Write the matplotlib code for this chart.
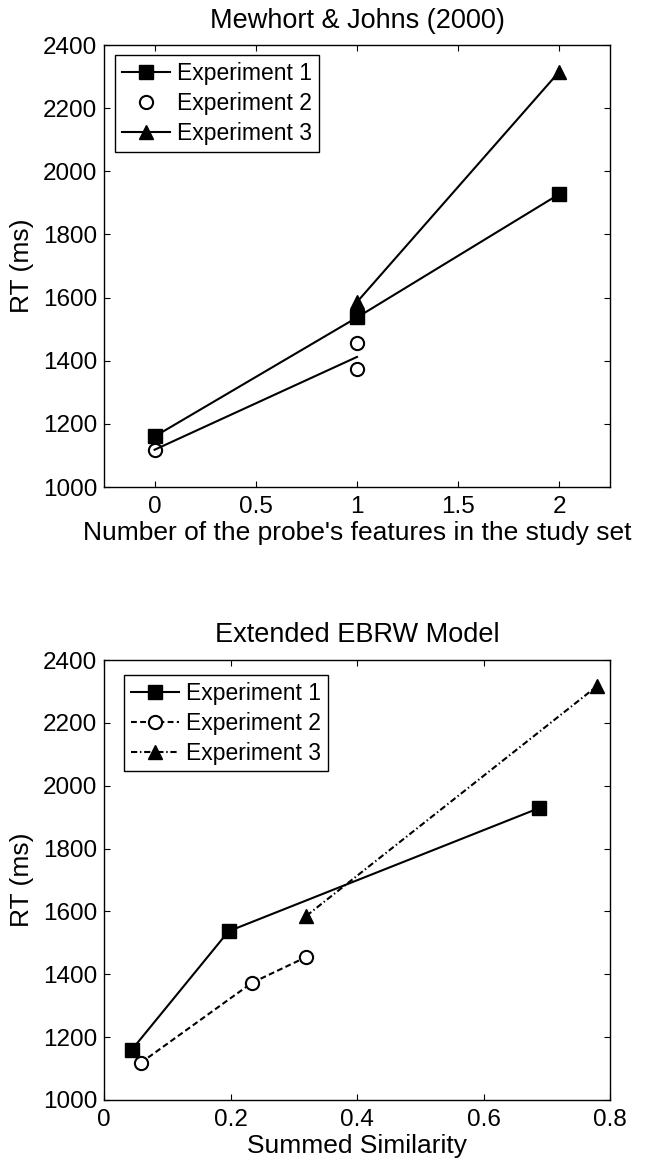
import matplotlib
matplotlib.use("Agg")
import matplotlib.pyplot as plt

plt.rcParams.update({
    "font.family": ["Liberation Sans", "DejaVu Sans"],
    "font.size": 17.5,
    "axes.linewidth": 1.0,
    "xtick.direction": "in",
    "ytick.direction": "in",
    "xtick.top": True,
    "ytick.right": True,
    "xtick.major.size": 4.5,
    "ytick.major.size": 4.5,
    "xtick.major.pad": 6.5,
    "ytick.major.pad": 5,
})

# Mewhort & Johns (2000) observed RTs
n_features_1 = [0, 1, 2]
rt_exp1 = [1160, 1537, 1928]
n_features_2 = [0, 1, 1]
rt_exp2 = [1118, 1455, 1373]
n_features_2_line = [0, 1]
rt_exp2_line = [1118, 1412]
n_features_3 = [1, 2]
rt_exp3 = [1586, 2316]

# Extended EBRW model: summed similarity vs RT
sim_exp1 = [0.044, 0.197, 0.687]
sim_exp2 = [0.058, 0.234, 0.320]
rt_model_exp2 = [1118, 1373, 1455]
sim_exp3 = [0.320, 0.779]

y_ticks = [1000, 1200, 1400, 1600, 1800, 2000, 2200, 2400]
legend_labels = ["Experiment 1", "Experiment 2", "Experiment 3"]

fig = plt.figure(figsize=(6.46, 11.6), dpi=100)
ax1 = fig.add_axes([104 / 646, 1 - 487 / 1160, 506 / 646, 442 / 1160])
ax2 = fig.add_axes([104 / 646, 1 - 1100 / 1160, 506 / 646, 440 / 1160])

filled = dict(color="black", markerfacecolor="black", markersize=9.5, linewidth=1.5)
hollow = dict(color="black", markerfacecolor="white", markeredgewidth=1.5,
              markersize=9.5, linewidth=1.5)
leg_kw = dict(loc="upper left", fancybox=False, edgecolor="black", framealpha=1,
              fontsize=16.5, handlelength=2.1, handletextpad=0.3,
              borderaxespad=0, labelspacing=0.3, borderpad=0.3)

# top panel
h1, = ax1.plot(n_features_1, rt_exp1, "-s", **filled)
h2, = ax1.plot(n_features_2, rt_exp2, "o", linestyle="none", **hollow)
ax1.plot(n_features_2_line, rt_exp2_line, "-", color="black", linewidth=1.5)
h3, = ax1.plot(n_features_3, rt_exp3, "-^", **filled)
ax1.set_xlim(-0.25, 2.25)
ax1.set_ylim(1000, 2400)
ax1.set_xticks([0, 0.5, 1, 1.5, 2])
ax1.set_xticklabels(["0", "0.5", "1", "1.5", "2"])
ax1.set_yticks(y_ticks)
ax1.set_ylabel("RT (ms)", fontsize=19, labelpad=6)
ax1.set_xlabel("Number of the probe's features in the study set", fontsize=19, labelpad=2)
ax1.set_title("Mewhort & Johns (2000)", fontsize=19.5, pad=12)
leg1 = ax1.legend([h1, h2, h3], legend_labels, bbox_to_anchor=(0.022, 0.977), **leg_kw)
leg1.get_frame().set_linewidth(1.0)

# bottom panel
g1, = ax2.plot(sim_exp1, rt_exp1, "-s", **filled)
g2, = ax2.plot(sim_exp2, rt_model_exp2, "o", linestyle=(0, (2.8, 1.6)), **hollow)
g3, = ax2.plot(sim_exp3, rt_exp3, "^", linestyle=(0, (3, 1.3, 0.7, 1.3)), **filled)
ax2.set_xlim(0, 0.8)
ax2.set_ylim(1000, 2400)
ax2.set_xticks([0, 0.2, 0.4, 0.6, 0.8])
ax2.set_xticklabels(["0", "0.2", "0.4", "0.6", "0.8"])
ax2.set_yticks(y_ticks)
ax2.set_ylabel("RT (ms)", fontsize=19, labelpad=6)
ax2.set_xlabel("Summed Similarity", fontsize=19, labelpad=2)
ax2.set_title("Extended EBRW Model", fontsize=19.5, pad=13)
leg2 = ax2.legend([g1, g2, g3], legend_labels, bbox_to_anchor=(0.04, 0.966), **leg_kw)
leg2.get_frame().set_linewidth(1.0)

fig.savefig("out.png", dpi=100)
